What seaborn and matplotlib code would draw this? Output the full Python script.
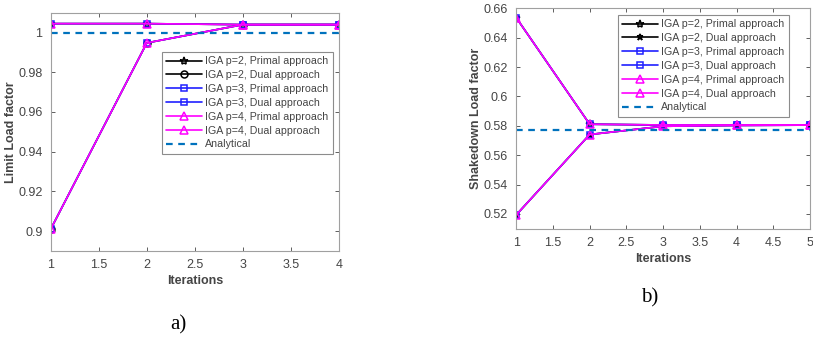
import numpy as np
import pandas as pd
import matplotlib
matplotlib.use("Agg")
import matplotlib.pyplot as plt
import seaborn as sns

sns.set_style("ticks")
plt.rcParams['font.family'] = ['Liberation Sans', 'DejaVu Sans']

# ---- data: panel a) limit analysis ----
iters_a = [1, 2, 3, 4]
a_p2_primal = [1.0045, 1.0045, 1.0040, 1.0040]
a_p2_dual = [0.9010, 0.9948, 1.0040, 1.0040]
a_p3_primal = [1.0045, 1.0045, 1.0040, 1.0040]
a_p3_dual = [0.9010, 0.9948, 1.0040, 1.0040]
a_p4_primal = [1.0045, 1.0045, 1.0040, 1.0040]
a_p4_dual = [0.9010, 0.9948, 1.0040, 1.0040]
a_analytical = 1.0

# ---- data: panel b) shakedown analysis ----
iters_b = [1, 2, 3, 4, 5]
b_p2_primal = [0.6536, 0.5811, 0.5806, 0.5806, 0.5806]
b_p2_dual = [0.5194, 0.5741, 0.5797, 0.5803, 0.5805]
b_p3_primal = [0.6536, 0.5811, 0.5806, 0.5806, 0.5806]
b_p3_dual = [0.5194, 0.5741, 0.5797, 0.5803, 0.5805]
b_p4_primal = [0.6536, 0.5811, 0.5806, 0.5806, 0.5806]
b_p4_dual = [0.5194, 0.5741, 0.5797, 0.5803, 0.5805]
b_analytical = 0.5774

labels = ["IGA p=2, Primal approach", "IGA p=2, Dual approach",
          "IGA p=3, Primal approach", "IGA p=3, Dual approach",
          "IGA p=4, Primal approach", "IGA p=4, Dual approach"]
colors = ["black", "black", "#2020ff", "#2020ff", "#ff00ff", "#ff00ff"]
msizes = [6, 5, 4.5, 4.5, 6, 6]
analytic_color = "#0072bd"
txt_color = "#454545"

fig = plt.figure(figsize=(8.13, 3.38), dpi=100)
ax_a = fig.add_axes([0.0624, 0.2574, 0.3546, 0.705])
ax_b = fig.add_axes([0.635, 0.3234, 0.3613, 0.652])


def draw(ax, x, series, markers, analytic, xlim, ylim, xticks, yticks, yfmt, ylabel, leg_anchor):
    for s, lab, c, m, ms in zip(series, labels, colors, markers, msizes):
        sns.lineplot(x=x, y=s, ax=ax, color=c, marker=m, markersize=ms,
                     markerfacecolor='none', markeredgecolor=c, markeredgewidth=1.1,
                     linewidth=1.2, label=lab)
    ax.axhline(analytic, color=analytic_color, linestyle=(0, (3, 2.5)), linewidth=1.6,
               label="Analytical")
    ax.set_xlim(*xlim)
    ax.set_ylim(*ylim)
    ax.set_xticks(xticks)
    ax.set_xticklabels([f"{t:g}" for t in xticks])
    ax.set_yticks(yticks)
    ax.set_yticklabels([yfmt(t) for t in yticks])
    ax.tick_params(direction='in', top=True, right=True, length=3, width=0.6,
                   labelsize=9, colors=txt_color, pad=6)
    for sp in ax.spines.values():
        sp.set_color("#a0a0a0")
        sp.set_linewidth(0.8)
        sp.set_visible(True)
    ax.set_xlabel("Iterations", fontsize=9, fontweight='bold', color=txt_color, labelpad=3)
    ax.set_ylabel(ylabel, fontsize=9, fontweight='bold', color=txt_color, labelpad=1)
    leg = ax.legend(loc='upper right', bbox_to_anchor=leg_anchor, bbox_transform=fig.transFigure,
                    fontsize=7.7, frameon=True, fancybox=False, edgecolor="#707070",
                    handlelength=3.4, labelspacing=0.36, borderpad=0.4, handletextpad=0.3,
                    borderaxespad=0)
    leg.get_frame().set_linewidth(0.8)
    for t in leg.get_texts():
        t.set_color(txt_color)


draw(ax_a, iters_a,
     [a_p2_primal, a_p2_dual, a_p3_primal, a_p3_dual, a_p4_primal, a_p4_dual],
     ['*', 'o', 's', 's', '^', '^'], a_analytical,
     (1, 4), (0.89, 1.01), [1, 1.5, 2, 2.5, 3, 3.5, 4],
     [0.9, 0.92, 0.94, 0.96, 0.98, 1.0],
     lambda t: f"{t:g}", "Limit Load factor", (333 / 813, 1 - 52 / 338))

draw(ax_b, iters_b,
     [b_p2_primal, b_p2_dual, b_p3_primal, b_p3_dual, b_p4_primal, b_p4_dual],
     ['*', '*', 's', 's', '^', '^'], b_analytical,
     (1, 5), (0.51, 0.66), [1, 1.5, 2, 2.5, 3, 3.5, 4, 4.5, 5],
     [0.52, 0.54, 0.56, 0.58, 0.6, 0.62, 0.64, 0.66],
     lambda t: f"{t:g}", "Shakedown Load factor", (789 / 813, 1 - 15 / 338))

fig.text(178 / 813, 1 - 325 / 338, "a)", fontsize=15, family='Liberation Serif',
         ha='center', va='center', color='black')
fig.text(650 / 813, 1 - 298 / 338, "b)", fontsize=15, family='Liberation Serif',
         ha='center', va='center', color='black')

fig.savefig("out.png", dpi=100)
